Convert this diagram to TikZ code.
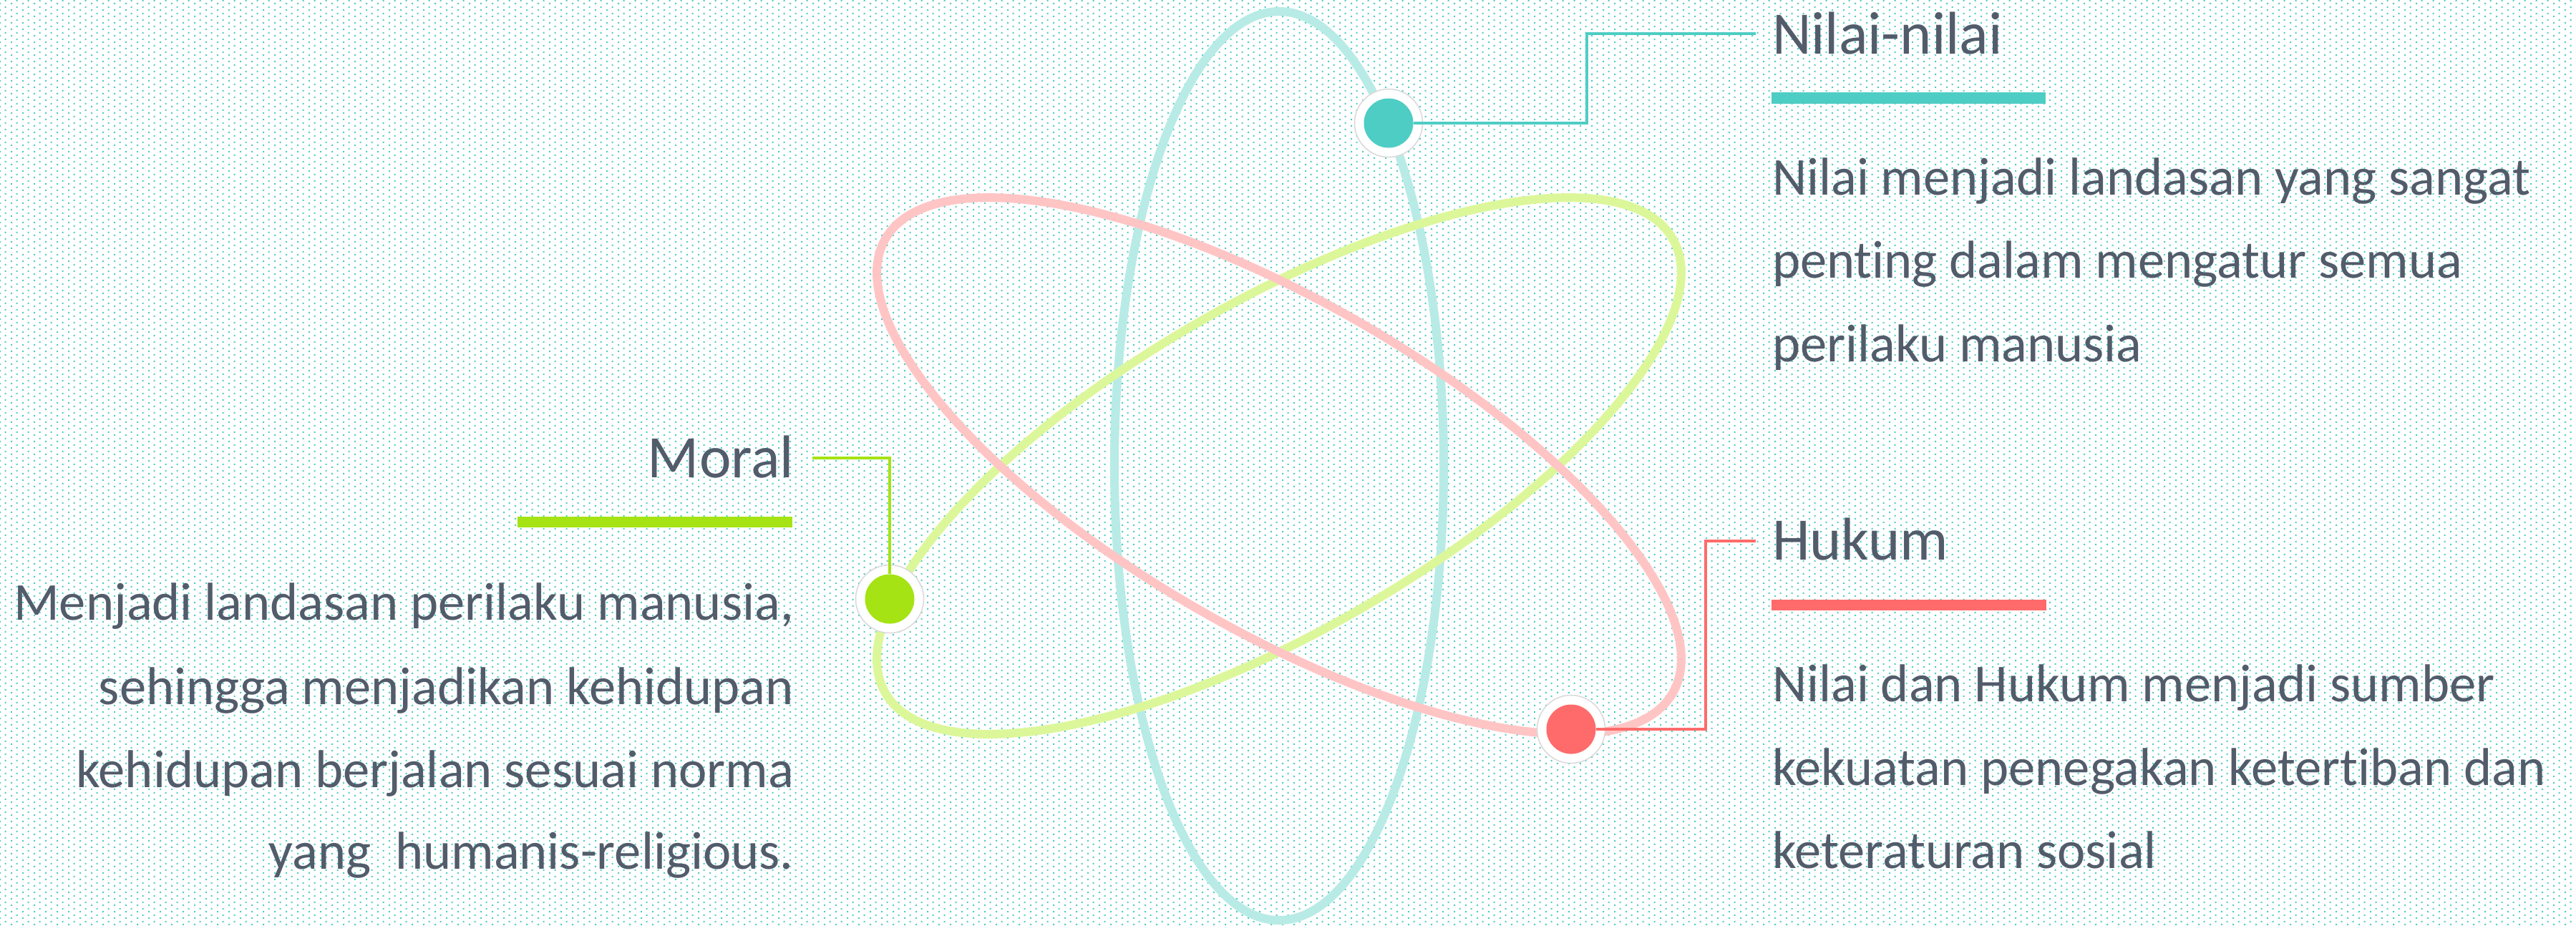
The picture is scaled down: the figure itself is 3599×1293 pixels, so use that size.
\documentclass[tikz,border=0pt]{standalone}
\usepackage{fontspec}
\setmainfont{Carlito}[Ligatures=NoCommon]
\usetikzlibrary{patterns}
\definecolor{tealc}{HTML}{4ECDC4}
\definecolor{tealring}{HTML}{B8EBE6}
\definecolor{redc}{HTML}{FF6B6B}
\definecolor{pinkring}{HTML}{FFC5C5}
\definecolor{greenc}{HTML}{A5E314}
\definecolor{greenring}{HTML}{DCF79A}
\definecolor{txt}{HTML}{525C6B}
\pgfdeclarepatternformonly{bgdots}{\pgfpointorigin}{\pgfqpoint{4.552pt}{2.418pt}}{\pgfqpoint{4.552pt}{2.418pt}}{%
  \pgfpathrectangle{\pgfpointorigin}{\pgfqpoint{0.62pt}{0.62pt}}%
  \pgfpathrectangle{\pgfqpoint{2.276pt}{1.209pt}}{\pgfqpoint{0.62pt}{0.62pt}}%
  \pgfusepath{fill}}
\tikzset{
  orbit/.style={line width=0.12cm},
  conn/.style={line width=0.04cm},
  ringdot/.style={circle, fill=white, draw=black!15, line width=0.015cm, minimum size=0.95cm, inner sep=0pt},
  coredot/.style={circle, minimum size=0.69cm, inner sep=0pt},
  titletxt/.style={font=\fontsize{24}{28}\selectfont, text=txt, inner sep=0pt, outer sep=0pt},
  bodytxt/.style={font=\fontsize{21.2}{25}\selectfont, text=txt, inner sep=0pt, outer sep=0pt},
}
\begin{document}
\begin{tikzpicture}[x=0.01cm, y=-0.01cm]
\useasboundingbox (0,0) rectangle (3599,1293);
\fill[white] (0,0) rectangle (3599,1293);
\fill[pattern=bgdots, pattern color=tealc] (0,0) rectangle (3599,1293);

\coordinate (C) at (1787,651);
% orbits
\draw[orbit, tealring] (C) ellipse [x radius=230, y radius=635];
\draw[orbit, greenring, rotate around={-60:(C)}] (C) ellipse [x radius=230, y radius=635];
\draw[orbit, pinkring, rotate around={60:(C)}] (C) ellipse [x radius=230, y radius=635];

% dots
\node[ringdot] (nr) at (1940,172) {};
\node[coredot, fill=tealc] (nd) at (nr) {};
\node[ringdot] (hr) at (2195,1019) {};
\node[coredot, fill=redc] (hd) at (hr) {};
\node[ringdot] (mr) at (1243,837) {};
\node[coredot, fill=greenc] (md) at (mr) {};

% connector end points
\coordinate (nb) at (2217,47);
\coordinate (ne) at (2453,47);
\coordinate (hb) at (2383,756);
\coordinate (he) at (2453,756);
\coordinate (mb) at (1243,640);
\coordinate (me) at (1135,640);

\draw[conn, tealc] (nd.east) -| (nb) -- (ne);
\draw[conn, redc] (hd.east) -| (hb) -- (he);
\draw[conn, greenc] (md.north) -- (mb) -- (me);

% bars
\fill[tealc] (2475,129) rectangle (2858,145);
\fill[redc] (2475,838) rectangle (2859,853);
\fill[greenc] (723,722) rectangle (1107,737);

% Nilai-nilai
\node[titletxt, anchor=base west] (nt) at (2476,75) {Nilai-nilai};
\node[bodytxt, anchor=base west] (n1) at (2476,272) {Nilai menjadi landasan yang sangat};
\node[bodytxt, anchor=base west] (n2) at (2476,388) {penting dalam mengatur semua};
\node[bodytxt, anchor=base west] (n3) at (2476,505) {perilaku manusia};

% Hukum
\node[titletxt, anchor=base west] (ht) at (2476,782) {Hukum};
\node[bodytxt, anchor=base west] (h1) at (2476,980) {Nilai dan Hukum menjadi sumber};
\node[bodytxt, anchor=base west] (h2) at (2476,1097) {kekuatan penegakan ketertiban dan};
\node[bodytxt, anchor=base west] (h3) at (2476,1213) {keteraturan sosial};

% Moral
\node[titletxt, anchor=base east] (mt) at (1109,667) {Moral};
\node[bodytxt, anchor=base east] (m1) at (1109,866) {Menjadi landasan perilaku manusia,};
\node[bodytxt, anchor=base east] (m2) at (1109,984) {sehingga menjadikan kehidupan};
\node[bodytxt, anchor=base east] (m3) at (1109,1100) {kehidupan berjalan sesuai norma};
\node[bodytxt, anchor=base east] (m4) at (1109,1214) {yang~ humanis-religious.};
\end{tikzpicture}
\end{document}
